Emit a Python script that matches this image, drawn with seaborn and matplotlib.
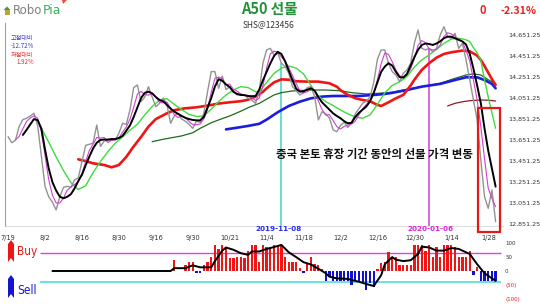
import matplotlib
matplotlib.use("Agg")
import matplotlib.pyplot as plt
import seaborn as sns
from matplotlib.patches import Rectangle, Polygon

# ---------------- data ----------------
date_labels = ["7/19", "8/2", "8/16", "8/30", "9/16", "9/30", "10/21",
               "11/4", "11/18", "12/2", "12/16", "12/30", "1/14", "1/28"]
ytick_vals = [12851.25, 13051.25, 13251.25, 13451.25, 13651.25,
              13851.25, 14051.25, 14251.25, 14451.25, 14651.25]

close = [13683, 13625, 13650, 13780, 13845, 13858, 13880, 13905, 13790, 13500,
         13210, 13110, 13060, 12985, 13110, 13200, 13210, 13200, 13270, 13290,
         13445, 13600, 13610, 13620, 13794, 13590, 13640, 13650, 13650, 13650,
         13715, 13810, 13800, 13937, 14150, 14175, 14016, 14060, 14159, 14060,
         13968, 14000, 14050, 13990, 13810, 13880, 13905, 13850, 13830, 13800,
         13762, 13830, 13820, 13905, 14110, 14302, 14302, 14143, 14260, 14130,
         14160, 14110, 14080, 14080, 14080, 14050, 14030, 14000, 14120, 14382,
         14508, 14524, 14460, 14480, 14382, 14350, 14286, 14159, 14120, 14080,
         14100, 14150, 14160, 14064, 13842, 13920, 13900, 13860, 13747, 13730,
         13790, 13820, 13770, 13820, 13900, 13950, 14000, 14020, 14060, 14200,
         14420, 14508, 14508, 14382, 14302, 14270, 14207, 14286, 14318, 14382,
         14572, 14699, 14524, 14508, 14524, 14492, 14524, 14651, 14730, 14635,
         14619, 14667, 14524, 14572, 14413, 14222, 14032, 13842, 13461, 13111,
         13000, 13175, 12873]

ma3_start = 2
ma3 = [13653, 13685, 13758, 13828, 13861, 13881, 13858, 13732,
       13500, 13273, 13127, 13052, 13052, 13098, 13173, 13203, 13227, 13253,
       13335, 13445, 13552, 13610, 13675, 13668, 13675, 13627, 13647, 13650,
       13672, 13725, 13775, 13849, 13962, 14087, 14114, 14084, 14078, 14093,
       14062, 14009, 14006, 14013, 13950, 13893, 13865, 13878, 13862, 13827,
       13797, 13797, 13804, 13852, 13945, 14106, 14238, 14249, 14235, 14178,
       14183, 14133, 14117, 14090, 14080, 14070, 14053, 14027, 14050, 14167,
       14337, 14471, 14497, 14488, 14441, 14404, 14339, 14265, 14188, 14120,
       14100, 14110, 14137, 14125, 14022, 13942, 13887, 13893, 13836, 13779,
       13756, 13780, 13793, 13803, 13830, 13890, 13950, 13990, 14027, 14093,
       14227, 14376, 14479, 14466, 14397, 14318, 14260, 14254, 14270, 14329,
       14424, 14551, 14598, 14577, 14519, 14508, 14513, 14556, 14635, 14672,
       14661, 14640, 14603, 14588, 14503, 14402, 14222, 14032, 13778, 13471,
       13191, 13095, 13016]

ma5_start = 4
ma5 = [13699, 13747, 13800, 13850, 13840, 13760,
       13560, 13380, 13250, 13170, 13111, 13096, 13110, 13135, 13190, 13260,
       13320, 13410, 13493, 13570, 13625, 13651, 13655, 13655, 13660, 13660,
       13670, 13690, 13740, 13790, 13870, 13960, 14050, 14100, 14111, 14096,
       14060, 14032, 14020, 13985, 13950, 13921, 13900, 13880, 13862, 13850,
       13842, 13838, 13838, 13870, 13960, 14050, 14160, 14230, 14215, 14180,
       14155, 14110, 14090, 14080, 14078, 14070, 14068, 14070, 14130, 14220,
       14300, 14380, 14450, 14490, 14470, 14400, 14310, 14220, 14140, 14111,
       14115, 14130, 14143, 14120, 14060, 14010, 13975, 13940, 13905, 13880,
       13858, 13830, 13810, 13815, 13870, 13910, 13940, 13970, 14020, 14100,
       14200, 14300, 14350, 14382, 14360, 14300, 14250, 14245, 14280, 14360,
       14440, 14510, 14555, 14570, 14565, 14556, 14570, 14590, 14620, 14635,
       14635, 14620, 14605, 14590, 14560, 14470, 14330, 14170, 14000, 13760,
       13550, 13380, 13207]

ma10_x = [9, 11, 13, 15, 17, 19, 21, 23, 25, 27, 29, 31, 33, 35, 37, 39, 41, 43,
          45, 47, 49, 51, 53, 55, 57, 59, 61, 63, 65, 67, 68, 70, 72, 74, 76, 78,
          80, 82, 84, 86, 88, 90, 92, 94, 96, 98, 100, 102, 104, 106, 108, 110,
          112, 114, 116, 118, 120, 122, 124, 125, 126, 127, 128, 129, 130, 131, 132]
ma10 = [13762, 13630, 13490, 13360, 13245, 13180, 13215, 13340, 13445, 13540,
        13620, 13680, 13745, 13800, 13890, 13970, 14030, 14045, 13990, 13940,
        13895, 13875, 13880, 13945, 14016, 14080, 14127, 14159, 14150, 14110,
        14105, 14200, 14285, 14335, 14355, 14335, 14280, 14170, 14070, 14016,
        13980, 13937, 13900, 13870, 13858, 13890, 13990, 14100, 14170, 14205,
        14255, 14345, 14413, 14461, 14515, 14570, 14612, 14620, 14605, 14588,
        14530, 14480, 14413, 14222, 14060, 13910, 13762]

ma20_x = [19, 21, 23, 26, 28, 30, 32, 34, 36, 38, 40, 43, 45, 48, 51, 54, 57,
          60, 63, 65, 67, 69, 70, 72, 74, 76, 78, 81, 84, 87, 89, 90, 92, 94,
          96, 98, 100, 101, 103, 105, 107, 109, 110, 112, 114, 116, 118, 120,
          123, 125, 127, 128, 129, 131, 132]
ma20 = [13467, 13450, 13429, 13413, 13391, 13413, 13490, 13590, 13680, 13778,
        13850, 13905, 13935, 13953, 13962, 13978, 13998, 14010, 14020, 14035,
        14064, 14110, 14143, 14200, 14228, 14225, 14210, 14207, 14207, 14191,
        14159, 14125, 14080, 14048, 14032, 14020, 13985, 13975, 14010, 14048,
        14080, 14170, 14225, 14318, 14382, 14435, 14470, 14486, 14502, 14495,
        14455, 14413, 14355, 14230, 14175]

ma40_x = [39, 42, 45, 47, 50, 52, 55, 57, 60, 63, 65, 68, 70, 72, 74, 77, 82,
          86, 90, 93, 97, 100, 104, 108, 112, 117, 121, 124, 126, 128, 130, 132]
ma40 = [13635, 13658, 13677, 13690, 13720, 13762, 13815, 13842, 13880, 13925,
        13959, 14000, 14040, 14080, 14102, 14118, 14127, 14127, 14120, 14102,
        14089, 14095, 14105, 14134, 14159, 14191, 14238, 14270, 14280, 14270,
        14225, 14185]

ma60_x = [59, 62, 65, 68, 70, 73, 76, 79, 82, 85, 88, 95, 99, 102, 104, 108,
          112, 117, 121, 124, 127, 129, 131, 132]
ma60 = [13752, 13768, 13785, 13805, 13845, 13915, 13975, 14016, 14048, 14064,
        14070, 14070, 14080, 14089, 14100, 14127, 14159, 14185, 14222, 14248,
        14248, 14222, 14185, 14143]

ma120_x = [119, 121, 123, 125, 128, 130, 132]
ma120 = [13975, 14000, 14015, 14025, 14032, 14030, 14022]

mark_days = [74, 114]
mark_texts = ["2019-11-08", "2020-01-06"]

osc_start = 44
osc_bars = [0, 40, 0, 0, 20, 31, 31, -7, -7, 20,
            31, 49, 92, 78, 92, 83, 47, 47, 50, 50,
            47, 72, 92, 92, 31, 92, 83, 83, 92, 88,
            88, 49, 31, 31, 31, 10, -8, 24, 50, 24,
            20, 8, -35, -21, -35, -35, -35, -35, -35, -50,
            -35, -35, -44, -67, -44, -55, 8, 28, 31, 66,
            50, 50, 20, 20, 20, 20, 92, 92, 92, 72,
            92, 49, 83, 49, 92, 92, 92, 83, 49, 49,
            49, 72, -14, 14, -35, -35, -35, -35, -35]
osc_line_x = [12, 44, 45, 48, 50, 52, 55, 56, 58, 59, 61, 63, 65, 66, 68, 70,
              71, 74, 76, 78, 80, 82, 84, 86, 87, 89, 92, 94, 95, 97, 99, 101,
              102, 104, 105, 107, 109, 111, 112, 114, 116, 118, 120, 122, 123,
              125, 127, 129, 131, 132]
osc_line = [0, 0, 10, 10, 20, 13, 13, 35, 72, 83, 75, 63, 57, 69, 69, 78,
            81, 92, 66, 49, 31, 23, 8, -8, -20, -26, -28, -35, -38, -46, -53, -15,
            24, 49, 40, 35, 38, 60, 86, 83, 72, 72, 81, 78, 72,
            60, 24, -8, -26, -35]
buy_level = 64
sell_level = -38
osc_ticks = [100, 50, 0, -50, -100]
osc_tick_labels = ["100", "50", "0", "(50)", "(100)"]

# ---------------- figure ----------------
sns.set_style("white")
plt.rcParams['font.family'] = ['Noto Sans CJK KR', 'DejaVu Sans']

W, H = 540, 304
fig = plt.figure(figsize=(W / 100, H / 100), dpi=100)


def fx(px):
    return px / W


def fy(py):
    return 1 - py / H


XL = (-0.84, 134.0)
ax = fig.add_axes([fx(5), fy(226), fx(503) - fx(5), fy(23) - fy(226)])
ax2 = fig.add_axes([fx(5), fy(303), fx(503) - fx(5), fy(239) - fy(303)])
ax.patch.set_alpha(0)
ax2.patch.set_alpha(0)

YL = (12832, 14765)


def line(xs, ys, color, lw, z):
    sns.lineplot(x=list(xs), y=list(ys), ax=ax, color=color, linewidth=lw,
                 estimator=None, sort=False, zorder=z)


idx_close = range(len(close))
# vertical date markers
ax.vlines(mark_days[0], YL[0], close[mark_days[0]], color="#48d8d0", lw=1.2, zorder=1)
ax.vlines(mark_days[1], YL[0], close[mark_days[1]], color="#d84bd8", lw=1.2, zorder=1)

line(ma120_x, ma120, "#8b1a2e", 0.9, 2)
line(ma40_x, ma40, "#1d6b1d", 0.9, 3)
line(ma60_x, ma60, "#1c1ce0", 1.9, 4)
line(ma20_x, ma20, "#ee1515", 1.9, 5)
line(ma10_x, ma10, "#3ddc3d", 1.0, 6)
line(idx_close, close, "#939393", 1.0, 7)
line(range(ma3_start, ma3_start + len(ma3)), ma3, "#d23fd2", 0.8, 8)
line(range(ma5_start, ma5_start + len(ma5)), ma5, "#000000", 1.4, 9)

ax.add_patch(Rectangle((127.3, 12778), 6.0, 13959 - 12778, fill=False,
                       edgecolor="#e81818", lw=1.6, clip_on=False, zorder=10))

ax.set_xlim(*XL)
ax.set_ylim(*YL)
ax.set_xlabel("")
ax.set_ylabel("")
ax.yaxis.tick_right()
ax.set_yticks(ytick_vals)
ax.set_yticklabels([f"{v:,.2f}" for v in ytick_vals])
ax.tick_params(axis='y', length=0, pad=3.6, labelsize=4.6, labelcolor="#333333")
for t in ax.get_yticklabels():
    t.set_fontfamily('DejaVu Sans')
ax.set_xticks(range(0, 10 * len(date_labels), 10))
ax.set_xticklabels(date_labels)
ax.set_xticks(range(0, len(close)), minor=True)
ax.tick_params(axis='x', which='major', length=0, pad=6.2, labelsize=4.8,
               labelcolor="#333333")
ax.tick_params(axis='x', which='minor', length=2, width=0.5, color="#aaaaaa")
for t in ax.get_xticklabels():
    t.set_fontfamily('DejaVu Sans')
for s in ["top", "right"]:
    ax.spines[s].set_visible(False)
ax.spines["bottom"].set_color("#d0d0d0")
ax.spines["bottom"].set_linewidth(0.5)
ax.spines["left"].set_color("#a0a0a0")
ax.spines["left"].set_linewidth(0.8)

# ---------------- oscillator panel ----------------
bx = list(range(osc_start, osc_start + len(osc_bars)))
bcol = ["#ee1515" if v >= 0 else "#1010d0" for v in osc_bars]
ax2.bar(bx, osc_bars, width=0.62, color=bcol, linewidth=0, zorder=2)
ax2.hlines(buy_level, 8.6, 133.4, color="#dd44dd", lw=1.0, zorder=1)
ax2.hlines(sell_level, 8.6, 133.4, color="#5fe0d8", lw=1.3, zorder=1)
sns.lineplot(x=osc_line_x, y=osc_line, ax=ax2, color="black", linewidth=1.4,
             estimator=None, sort=False, zorder=3)
ax2.set_xlim(*XL)
ax2.set_ylim(-113, 113)
ax2.set_xlabel("")
ax2.set_ylabel("")
ax2.set_xticks([])
ax2.yaxis.tick_right()
ax2.set_yticks(osc_ticks)
ax2.set_yticklabels(osc_tick_labels)
ax2.tick_params(axis='y', length=0, pad=1.5, labelsize=4.0)
for t, v in zip(ax2.get_yticklabels(), osc_ticks):
    t.set_color("#e02020" if v < 0 else "#333333")
    t.set_fontfamily('DejaVu Sans')
for s in ax2.spines.values():
    s.set_visible(False)

# ---------------- texts ----------------
fig.text(fx(269), fy(9), "A50 선물", color="#23903a", fontsize=10.5,
         fontweight="bold", ha="center", va="center")
fig.text(fx(269), fy(25), "SHS@123456", color="#333333", fontsize=6,
         ha="center", va="center")
fig.text(fx(483), fy(11), "0", color="#e82020", fontsize=8, fontweight="bold",
         ha="center", va="center")
fig.text(fx(519), fy(11), "-2.31%", color="#e82020", fontsize=7.6,
         fontweight="bold", ha="center", va="center")

fig.text(fx(22), fy(38), "고점대비", color="#3c3cc8", fontsize=4.4, ha="center", va="center")
fig.text(fx(22), fy(45.5), "-12.72%", color="#3c3cc8", fontsize=4.4, ha="center", va="center")
fig.text(fx(22), fy(54.5), "저점대비", color="#e03030", fontsize=4.4, ha="center", va="center")
fig.text(fx(25), fy(62.5), "1.92%", color="#e03030", fontsize=4.4, ha="center", va="center")

fig.text(fx(374), fy(155), "중국 본토 휴장 기간 동안의 선물 가격 변동", color="#111111",
         fontsize=8.2, fontweight="bold", ha="center", va="center")

fig.text(fx(279), fy(229.2), mark_texts[0], color="#2a2aff", fontsize=5.2,
         fontweight="bold", ha="center", va="center", family="DejaVu Sans")
fig.text(fx(431), fy(229.2), mark_texts[1], color="#e020e0", fontsize=5.2,
         fontweight="bold", ha="center", va="center", family="DejaVu Sans")

# logo
fig.text(fx(13), fy(10.5), "Robo", color="#808080", fontsize=8.5, ha="left",
         va="center", family="DejaVu Sans")
fig.text(fx(43), fy(10), "Pia", color="#3aae5e", fontsize=9, ha="left",
         va="center", family="DejaVu Sans")


def pix_poly(pts, color):
    fig.patches.append(Polygon([(fx(a), fy(b)) for a, b in pts], closed=True,
                               transform=fig.transFigure, facecolor=color,
                               edgecolor="none"))


pix_poly([(3.5, 10), (7, 6.5), (10.5, 10)], "#3c9a4a")
pix_poly([(4.5, 10), (9.5, 10), (9.5, 15), (4.5, 15)], "#c8a030")
pix_poly([(62, 0), (67, 0), (63, 4)], "#e85030")

# Buy / Sell ribbons
pix_poly([(8, 244), (11, 240), (14, 244), (14, 262), (11, 258), (8, 262)], "#ee1515")
pix_poly([(8, 279), (11, 275), (14, 279), (14, 298), (11, 294), (8, 298)], "#1515d0")
fig.text(fx(17), fy(251.5), "Buy", color="#ee1515", fontsize=8.5, ha="left",
         va="center", family="DejaVu Sans", fontstretch="condensed")
fig.text(fx(17), fy(290), "Sell", color="#1515d0", fontsize=8.5, ha="left",
         va="center", family="DejaVu Sans", fontstretch="condensed")

fig.savefig("out.png", dpi=100)
